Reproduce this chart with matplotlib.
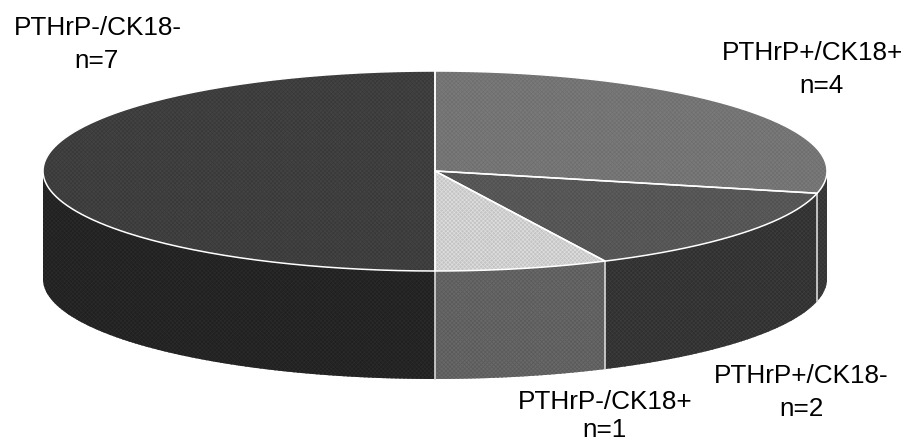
import numpy as np
import matplotlib
matplotlib.use("Agg")
import matplotlib.pyplot as plt

plt.rcParams['font.family'] = ['Liberation Sans', 'DejaVu Sans']
plt.rcParams['hatch.linewidth'] = 0.5

labels = ["PTHrP+/CK18+", "PTHrP+/CK18-", "PTHrP-/CK18+", "PTHrP-/CK18-"]
counts = [4, 2, 1, 7]
top_colors = ["#7a7a7a", "#5c5c5c", "#c4c4c4", "#434343"]
side_colors = ["#3d3d3d", "#2f2f2f", "#686868", "#202020"]
top_hatch = ["#6e6e6e", "#505050", "#dedede", "#383838"]
side_hatch = ["#333333", "#3c3c3c", "#5a5a5a", "#2a2a2a"]

label_x = [813, 801, 605, 98]
label_y = [60, 383, 409, 35]
count_x = [821, 802, 604, 97]
count_y = [93, 416, 437, 68]

cx, cy = 435, 171
rx, ry = 392, 100
depth = 108


def rim(a0, a1, n=200):
    a = np.radians(np.linspace(a0, a1, n))
    return cx + rx * np.cos(a), cy - ry * np.sin(a)


def main():
    fig = plt.figure(figsize=(9.09, 4.43), dpi=100)
    ax = fig.add_axes([0, 0, 1, 1])
    ax.set_xlim(0, 909)
    ax.set_ylim(443, 0)
    ax.axis("off")

    # slices run clockwise from 12 o'clock
    edges = 90 - np.cumsum([0] + counts) / sum(counts) * 360

    # outer wall, only the front half of the ellipse shows
    for i in range(len(counts)):
        a0 = min(max(edges[i], -180), 0)
        a1 = max(min(edges[i + 1], 0), -180)
        if a0 <= a1:
            continue
        x, y = rim(a0, a1)
        px = np.concatenate([x, x[::-1]])
        py = np.concatenate([y, y[::-1] + depth])
        ax.fill(px, py, facecolor=side_colors[i], edgecolor=side_hatch[i],
                hatch="xxxxxxxx", linewidth=0, zorder=1)

    # seams on the wall
    for e in edges[1:-1]:
        x, y = rim(e, e, 1)
        if np.sin(np.radians(e)) < 0:
            ax.plot([x[0], x[0]], [y[0], y[0] + depth], color="#d8d8d8", lw=1.2, zorder=2)

    # top face
    for i in range(len(counts)):
        x, y = rim(edges[i], edges[i + 1])
        ax.fill(np.r_[cx, x], np.r_[cy, y], facecolor=top_colors[i],
                edgecolor=top_hatch[i], hatch="xxxxxxxx", linewidth=0, zorder=3)
        ax.plot(np.r_[cx, x, cx], np.r_[cy, y, cy], color="white", lw=1.1, zorder=4)

    for i in range(len(counts)):
        ax.text(label_x[i], label_y[i], labels[i], fontsize=18.8, color="black",
                ha="center", va="baseline")
        ax.text(count_x[i], count_y[i], "n=%d" % counts[i], fontsize=18.8, color="black",
                ha="center", va="baseline")

    fig.savefig("out.png", dpi=100)


if __name__ == "__main__":
    main()
